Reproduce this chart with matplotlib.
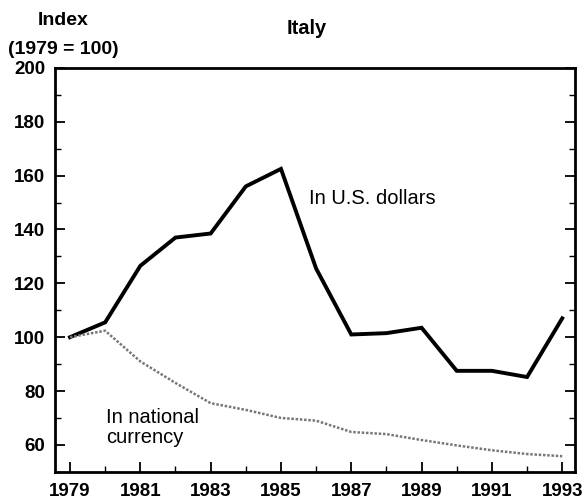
import matplotlib
matplotlib.use("Agg")
import matplotlib.pyplot as plt
from matplotlib.ticker import MultipleLocator

# === Data ===
years = list(range(1979, 1994))
usd = [100, 105.5, 126.5, 137, 138.5, 156, 162.5, 125.5, 101, 101.5, 103.5, 87.5, 87.5, 85.2, 107]
national = [100, 102.4, 91, 83, 75.5, 73, 70, 69, 64.8, 64, 61.8, 59.8, 58, 56.6, 55.8]
xtick_years = list(range(1979, 1994, 2))

plt.rcParams["font.family"] = ["Liberation Sans", "DejaVu Sans"]

fig = plt.figure(figsize=(5.84, 5.03), dpi=100)
ax = fig.add_axes([0.094, 0.062, 0.891, 0.803])

ax.plot(years, usd, color="black", linewidth=2.8, solid_joinstyle="miter")
ax.plot(years, national, color="#777777", linewidth=1.8, linestyle=(0, (1, 0.7)))

ax.set_xlim(1978.57, 1993.37)
ax.set_ylim(50, 200)

ax.set_xticks(xtick_years)
ax.xaxis.set_minor_locator(MultipleLocator(1))
ax.set_yticks(range(60, 201, 20))
ax.yaxis.set_minor_locator(MultipleLocator(10))

ax.tick_params(axis="both", which="major", direction="in", length=7, width=1.3,
               labelsize=13.5)
ax.tick_params(axis="x", which="major", pad=8)
ax.tick_params(axis="y", which="major", pad=7)
ax.tick_params(axis="both", which="minor", direction="in", length=4, width=1.0)
ax.tick_params(axis="y", right=True, which="both")
for lbl in ax.get_xticklabels() + ax.get_yticklabels():
    lbl.set_fontweight("bold")

for s in ax.spines.values():
    s.set_linewidth(2)

# === Annotations ===
fig.text(0.526, 0.943, "Italy", ha="center", va="center", fontsize=14.5, fontweight="bold")
fig.text(0.109, 0.96, "Index", ha="center", va="center", fontsize=14, fontweight="bold")
fig.text(0.108, 0.901, "(1979 = 100)", ha="center", va="center", fontsize=14, fontweight="bold")
ax.text(1985.8, 151.5, "In U.S. dollars", ha="left", va="center", fontsize=14.5)
ax.text(1980.02, 66.5, "In national\ncurrency", ha="left", va="center", fontsize=14.5,
        linespacing=1.05)

fig.savefig("out.png", dpi=100)
